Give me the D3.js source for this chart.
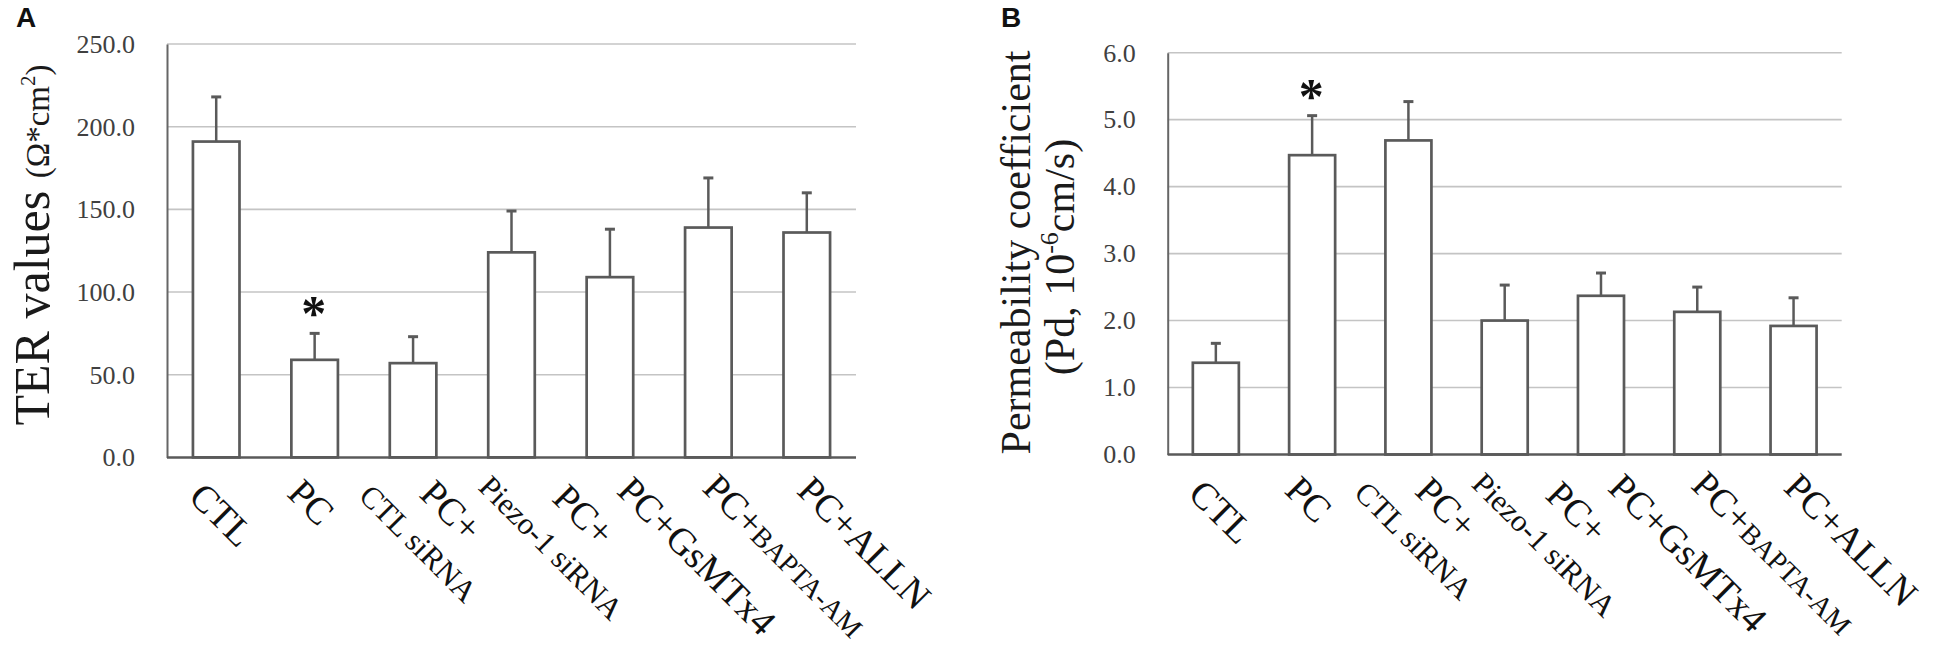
<!DOCTYPE html>
<html>
<head>
<meta charset="utf-8">
<script src="https://cdn.jsdelivr.net/npm/d3@7"></script>
<style>
  html, body { margin: 0; padding: 0; background: #fff; }
  svg { display: block; }
</style>
</head>
<body>
<script>
// ---------- data ----------
const categories = ["CTL", "PC", "PC+|CTL siRNA", "PC+|Piezo-1 siRNA", "PC+GsMTx4", "PC+BAPTA-AM", "PC+ALLN"];
const terMean = [191, 59, 57, 124, 109, 139, 136];
const terErr  = [27, 16, 16, 25, 29, 30, 24];
const pdMean  = [1.37, 4.47, 4.69, 2.00, 2.37, 2.13, 1.92];
const pdErr   = [0.29, 0.59, 0.58, 0.53, 0.34, 0.37, 0.42];
const terTicks = [0, 50, 100, 150, 200, 250];
const pdTicks  = [0, 1, 2, 3, 4, 5, 6];
const significant = ["PC"];

// ---------- layout ----------
const W = 1950, H = 655;
const serif = "'Times New Roman', 'Liberation Serif', serif";
const labelOrigin = [[-29, 41], [-29, 37.5], [-55.6, 40], [-34.5, 31], [5.5, 35], [-7.4, 32.4], [-11.4, 34.8]];

const svg = d3.select("body").append("svg").attr("width", W).attr("height", H);
svg.append("rect").attr("width", W).attr("height", H).attr("fill", "#fff");

function panel(cfg) {
  const g = svg.append("g");
  const x = d3.scaleBand().domain(categories).range([cfg.left, cfg.right])
    .paddingInner(cfg.pad).paddingOuter(cfg.pad / 2);
  const y = d3.scaleLinear().domain([0, cfg.max]).range([cfg.bottom, cfg.top]);

  // gridlines
  g.append("g").selectAll("line").data(cfg.ticks.filter(t => t > 0)).join("line")
    .attr("x1", cfg.left).attr("x2", cfg.right)
    .attr("y1", d => y(d)).attr("y2", d => y(d))
    .attr("stroke", "#c4c4c4").attr("stroke-width", 1.6);

  // y axis with labels
  const ax = g.append("g").attr("transform", `translate(${cfg.left},0)`)
    .call(d3.axisLeft(y).tickValues(cfg.ticks).tickFormat(d3.format(".1f"))
      .tickSize(0).tickSizeOuter(0).tickPadding(32));
  ax.select(".domain").attr("stroke", "#666").attr("stroke-width", 2);
  ax.selectAll("text").attr("font-family", serif).attr("font-size", 26)
    .attr("fill", "#404040");

  // bars
  const vals = cfg.mean.map((m, i) => ({ c: categories[i], m, e: cfg.err[i] }));
  g.append("g").selectAll("rect").data(vals).join("rect")
    .attr("x", d => x(d.c)).attr("width", x.bandwidth())
    .attr("y", d => y(d.m)).attr("height", d => y(0) - y(d.m))
    .attr("fill", "#fff").attr("stroke", "#5a5a5a").attr("stroke-width", 2.7);

  // error bars
  const eb = g.append("g").attr("stroke", "#5a5a5a");
  eb.selectAll("line.v").data(vals).join("line").attr("class", "v")
    .attr("x1", d => x(d.c) + x.bandwidth() / 2).attr("x2", d => x(d.c) + x.bandwidth() / 2)
    .attr("y1", d => y(d.m)).attr("y2", d => y(d.m + d.e)).attr("stroke-width", 2.5);
  eb.selectAll("line.c").data(vals).join("line").attr("class", "c")
    .attr("x1", d => x(d.c) + x.bandwidth() / 2 - 5).attr("x2", d => x(d.c) + x.bandwidth() / 2 + 5)
    .attr("y1", d => y(d.m + d.e)).attr("y2", d => y(d.m + d.e)).attr("stroke-width", 3);

  // significance
  g.append("g").selectAll("text").data(vals.filter(d => significant.includes(d.c))).join("text")
    .attr("x", d => x(d.c) + x.bandwidth() / 2 - 1).attr("y", d => y(d.m + d.e) - 3)
    .attr("text-anchor", "middle").attr("font-family", serif).attr("font-weight", "bold")
    .attr("font-size", 50).attr("fill", "#111").text("*");

  // x axis line
  g.append("line").attr("x1", cfg.left).attr("x2", cfg.right)
    .attr("y1", y(0)).attr("y2", y(0)).attr("stroke", "#5a5a5a").attr("stroke-width", 2.5);

  // category labels (rotated 45°)
  categories.forEach((c, i) => {
    const lines = c.split("|");
    const cx = x(c) + x.bandwidth() / 2;
    const lg = g.append("g")
      .attr("transform", `translate(${cx + labelOrigin[i][0]},${y(0) + labelOrigin[i][1]}) rotate(45)`);
    const texts = lines.map((ln, li) => {
      const t = lg.append("text").attr("font-family", serif).attr("fill", "#111")
        .attr("y", -(lines.length - 1 - li) * 44);
      if (li > 0) {
        t.append("tspan").attr("font-size", 31).text(ln);
      } else if (ln.startsWith("PC+") && ln.length > 3 && ln.includes("BAPTA")) {
        t.append("tspan").attr("font-size", 38).text("PC+");
        t.append("tspan").attr("font-size", 28).text(ln.slice(3));
      } else {
        t.append("tspan").attr("font-size", 38).text(ln);
      }
      return t;
    });
    const widths = texts.map(t => t.node().getComputedTextLength());
    const maxW = d3.max(widths);
    texts.forEach((t, k) => t.attr("x", (maxW - widths[k]) / 2));
  });
}

panel({ left: 167, right: 856, top: 44, bottom: 457.4, max: 250, pad: 0.527,
        ticks: terTicks, mean: terMean, err: terErr });
panel({ left: 1167.7, right: 1841.7, top: 52.7, bottom: 454.5, max: 6, pad: 0.522,
        ticks: pdTicks, mean: pdMean, err: pdErr });

// y titles
const tA = svg.append("text").attr("transform", "translate(49,245) rotate(-90)")
  .attr("text-anchor", "middle").attr("font-family", serif).attr("fill", "#1a1a1a");
tA.append("tspan").attr("font-size", 50).text("TER values ");
tA.append("tspan").attr("font-size", 33).text("(Ω*cm");
tA.append("tspan").attr("font-size", 21).attr("dy", -14).text("2");
tA.append("tspan").attr("font-size", 33).attr("dy", 14).text(")");

const tB1 = svg.append("text").attr("transform", "translate(1030,252.5) rotate(-90)")
  .attr("text-anchor", "middle").attr("font-family", serif).attr("fill", "#1a1a1a")
  .attr("font-size", 42).text("Permeability coefficient");
const tB2 = svg.append("text").attr("transform", "translate(1074,257) rotate(-90)")
  .attr("text-anchor", "middle").attr("font-family", serif).attr("fill", "#1a1a1a")
  .attr("font-size", 42);
tB2.append("tspan").text("(Pd, 10");
tB2.append("tspan").attr("font-size", 26).attr("dy", -16).text("-6");
tB2.append("tspan").attr("dy", 16).text("cm/s)");

// panel letters
svg.append("text").attr("x", 16).attr("y", 27).attr("font-family", "Arial, 'Liberation Sans', sans-serif")
  .attr("font-weight", "bold").attr("font-size", 28).attr("fill", "#111").text("A");
svg.append("text").attr("x", 1001).attr("y", 27).attr("font-family", "Arial, 'Liberation Sans', sans-serif")
  .attr("font-weight", "bold").attr("font-size", 28).attr("fill", "#111").text("B");
</script>
</body>
</html>
